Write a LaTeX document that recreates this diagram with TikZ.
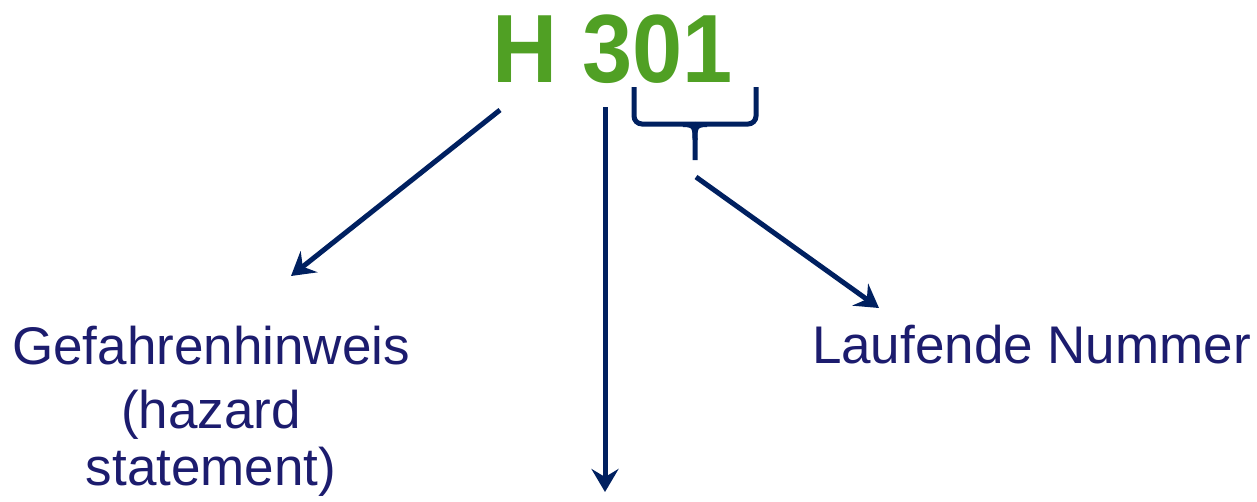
\documentclass[tikz,border=0pt]{standalone}
\usepackage{fontspec}
\setmainfont{Liberation Sans}
\usetikzlibrary{arrows.meta}
\definecolor{hgreen}{RGB}{80,160,36}
\definecolor{navy}{RGB}{0,32,96}
\definecolor{txtblue}{RGB}{28,28,110}
\begin{document}
\begin{tikzpicture}[x=1pt,y=-1pt,
  arrowline/.style={draw=navy,line width=5pt,-{Stealth[length=23pt,width=27pt,inset=8pt]}},
  bracel/.style={draw=navy,line width=5pt,rounded corners=8pt},
  label/.style={text=txtblue,font=\fontsize{53}{64}\selectfont,align=center,inner sep=0pt}]
\useasboundingbox (0,0) rectangle (1257,501);
\node[text=hgreen,font=\fontsize{97}{100}\selectfont\bfseries,inner sep=0pt,anchor=base,xscale=0.93] (title) at (612.5,82) {H 301};
\node[label,anchor=base] (gef) at (211,485) {Gefahrenhinweis\\(hazard\\[-7pt]statement)};
\node[label,anchor=base] (lauf) at (1031.5,363) {Laufende Nummer};
\coordinate (ls) at (500,110);
\coordinate (le) at (291,276);
\coordinate (ms) at (605,107);
\coordinate (me) at (605,492);
\coordinate (rs) at (696,177);
\coordinate (re) at (879,308);
\coordinate (btip) at (695,160);
\draw[arrowline] (ls) -- (le);
\draw[arrowline] (ms) -- (me);
\draw[arrowline] (rs) -- (re);
\draw[bracel] (634,87) -- (634,124) -- (695,124);
\draw[bracel] (756,87) -- (756,124) -- (695,124);
\draw[draw=navy,line width=5pt] (683,124.5) .. controls (695,124.5) and (695,128) .. (695,140) -- (btip);
\draw[draw=navy,line width=5pt] (707,124.5) .. controls (695,124.5) and (695,128) .. (695,140);
\end{tikzpicture}
\end{document}
